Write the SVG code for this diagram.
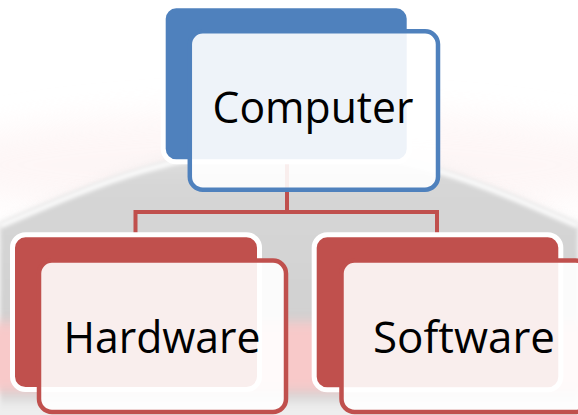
<svg xmlns="http://www.w3.org/2000/svg" width="578" height="415" viewBox="0 0 578 415">
  <style>
    .back-blue { fill: #4F81BD; stroke: #FFFFFF; stroke-width: 5; }
    .back-red { fill: #C0504D; stroke: #FFFFFF; stroke-width: 5; }
    .front { fill: #FFFFFF; fill-opacity: 0.9; stroke-width: 4.5; }
    .front-blue { stroke: #4F81BD; }
    .front-red { stroke: #C0504D; }
    .label { font-family: "Open Sans", "Noto Sans", "Liberation Sans", sans-serif; font-size: 44px; fill: #000000; text-anchor: middle; }
    .link { fill: none; stroke: #C0504D; stroke-width: 4; stroke-linejoin: miter; }
  </style>
  <defs>
    <filter id="softWide" x="-20%" y="-50%" width="140%" height="200%">
      <feGaussianBlur stdDeviation="16"/>
    </filter>
    <filter id="softMid" x="-10%" y="-30%" width="120%" height="160%">
      <feGaussianBlur stdDeviation="6"/>
    </filter>
    <filter id="softEdge" x="-10%" y="-30%" width="120%" height="160%">
      <feGaussianBlur stdDeviation="2"/>
    </filter>
    <linearGradient id="discShade" x1="0" y1="140" x2="0" y2="330" gradientUnits="userSpaceOnUse">
      <stop offset="0" stop-color="#E0E0E0"/>
      <stop offset="0.25" stop-color="#D6D6D6"/>
      <stop offset="1" stop-color="#D1D1D1"/>
    </linearGradient>
  </defs>

  <!-- backdrop: pale plate with a bright rim -->
  <g id="backdrop">
    <rect x="0" y="0" width="578" height="415" fill="#FFFFFF"/>
    <ellipse cx="290" cy="165" rx="360" ry="55" fill="#FDF1F1" opacity="0.6" filter="url(#softWide)"/>
    <path d="M-10,232 C100,184 180,141 290,143 C400,141 480,184 588,232" fill="none" stroke="#EFEBEB" stroke-width="8" opacity="0.5" filter="url(#softMid)"/>
    <path d="M0,223 C100,180 180,145 290,147 C400,145 480,180 578,223 L578,415 L0,415 Z" fill="url(#discShade)" filter="url(#softEdge)"/>
    <rect x="-30" y="322" width="640" height="70" fill="#F8C9C9" filter="url(#softMid)"/>
    <rect x="-30" y="400" width="640" height="30" fill="#EEEEEE" filter="url(#softMid)"/>
    <path d="M0,226 C100,183 180,148 290,150 C400,148 480,183 578,226" fill="none" stroke="#FFFFFF" stroke-width="5" filter="url(#softEdge)"/>
  </g>

  <!-- tree connectors -->
  <g id="connectors">
    <path class="link" d="M287,160 V212"/>
    <path class="link" d="M135.5,238 V212 H437 V238"/>
  </g>

  <g id="node-computer">
    <rect class="back-blue" x="163.2" y="5.8" width="246" height="156" rx="13"/>
    <rect class="front front-blue" x="189.8" y="31.3" width="248.2" height="158.4" rx="13"/>
    <text class="label" x="313" y="123" textLength="201" lengthAdjust="spacingAndGlyphs">Computer</text>
  </g>

  <g id="node-hardware">
    <rect class="back-red" x="12.5" y="234.8" width="247" height="154.7" rx="13"/>
    <rect class="front front-red" x="39" y="260.5" width="247" height="151.5" rx="13"/>
    <text class="label" x="162" y="353" textLength="197" lengthAdjust="spacingAndGlyphs">Hardware</text>
  </g>

  <g id="node-software">
    <rect class="back-red" x="314.2" y="234.8" width="246.6" height="155" rx="13"/>
    <rect class="front front-red" x="341.5" y="260.5" width="247" height="151.5" rx="13"/>
    <text class="label" x="464" y="353" textLength="182" lengthAdjust="spacingAndGlyphs">Software</text>
  </g>
</svg>
